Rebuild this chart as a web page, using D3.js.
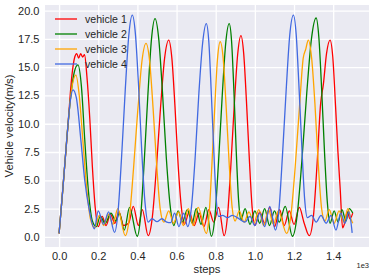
<!DOCTYPE html>
<html>
<head>
<meta charset="utf-8">
<script src="https://cdn.jsdelivr.net/npm/d3@7"></script>
<style>
body { margin: 0; background: #fff; }
svg text { font-family: "Liberation Sans", Arial, sans-serif; }
</style>
</head>
<body>
<svg id="chart" width="374" height="280"></svg>
<script>
// [step, velocity]
var vehicle1 = [[0,0.3],[25,5.5],[45,9.8],[65,14.2],[80,15.9],[90,16.2],[100,15.8],[110,16.2],[120,15.9],[130,16.1],[142,14.2],[157,10.4],[170,6.2],[185,2.5],[200,0.9],
 [220,1.8],[240,1.0],[262,2.0],[285,1.2],[305,2.2],[330,1.0],[355,1.2],[379,2.7],[405,1.0],[425,2.4],[455,0.1],
 [476,1.7],[497,6.1],[518,11.4],[539,15.8],[560,17.4],[576,15.8],[592,11.5],[608,6.4],[624,2.7],[640,1.1],
 [665,2.2],[690,1.0],[715,2.1],[740,0.9],[765,2.4],[790,1.3],[815,2.6],[843,0.1],
 [860,1.8],[877,6.2],[895,11.7],[912,16.1],[929,17.8],[943,16.2],[957,12.0],[972,6.8],[986,2.6],[1000,1.0],
 [1025,2.2],[1050,1.2],[1076,2.6],[1101,0.9],[1126,2.4],[1150,1.0],[1176,2.3],[1200,1.1],[1227,2.6],[1252,1.2],[1278,0.1],
 [1299,1.8],[1318,6.5],[1336,11.8],[1350,13.5],[1366,16.2],[1384,17.4],[1398,15.9],[1412,11.6],[1424,7.6],[1436,4.2],[1448,0.8],
 [1460,1.3],[1472,2.2],[1486,1.6],[1500,2.1]];

var vehicle2 = [[0,0.3],[20,4.4],[40,8.8],[60,12.5],[78,14.6],[96,15.2],[114,13.3],[131,8.6],[150,4.0],[170,1.4],[190,0.9],
 [210,1.8],[235,1.2],[265,2.1],[290,1.4],[308,2.1],[333,0.6],[360,2.6],[399,0.05],
 [417,1.9],[435,6.7],[454,12.7],[472,17.5],[490,19.3],[509,17.5],[528,12.8],[548,6.9],[567,2.8],[586,1.0],
 [608,2.3],[630,1.3],[655,2.4],[680,1.2],[700,2.5],[725,1.1],[750,2.6],[778,0.05],
 [796,1.8],[814,6.5],[833,12.4],[851,17.1],[869,18.85],[881,17.3],[893,12.9],[905,7.5],[917,3.2],[929,1.5],
 [950,2.5],[975,1.1],[1000,2.3],[1025,1.2],[1050,2.5],[1075,1.0],[1100,2.3],[1125,1.3],[1155,2.7],[1192,0.05],
 [1216,1.9],[1240,6.7],[1265,12.7],[1289,17.5],[1313,19.35],[1327,17.6],[1341,13.1],[1356,7.4],[1370,3.1],[1384,1.2],
 [1405,2.3],[1425,1.3],[1445,2.4],[1465,1.4],[1482,2.5],[1500,2.1]];

var vehicle3 = [[0,0.3],[20,4.4],[40,8.8],[62,12.8],[86,14.3],[103,12.5],[121,8.6],[140,4.5],[160,1.6],[182,0.8],
 [205,1.9],[228,1.0],[252,2.0],[275,1.1],[300,2.5],[338,0.1],
 [359,1.7],[380,6.0],[402,11.2],[423,15.5],[444,17.1],[462,15.6],[480,11.4],[499,6.2],[517,2.4],[535,1.3],
 [560,2.3],[585,1.2],[610,2.2],[635,1.0],[660,2.5],[685,1.0],[710,2.6],[752,0.3],
 [766,1.9],[780,6.2],[795,11.4],[809,15.7],[823,17.25],[838,15.8],[853,11.6],[869,6.4],[884,2.6],[899,1.4],
 [920,2.3],[945,1.3],[970,2.2],[995,1.2],[1020,2.4],[1045,1.0],[1070,2.4],[1095,1.1],[1120,2.3],[1162,0.3],
 [1184,1.9],[1206,6.2],[1228,11.5],[1247,15.8],[1260,16.6],[1273,17.4],[1290,15.8],[1307,11.7],[1324,6.4],[1341,2.5],[1358,1.4],
 [1380,2.4],[1405,1.2],[1430,2.3],[1455,1.3],[1475,2.5],[1490,1.6],[1500,1.2]];

var vehicle4 = [[0,0.3],[20,4.4],[40,8.8],[57,12.0],[71,13.0],[88,12.3],[111,8.6],[131,5.0],[155,2.3],[180,0.7],
 [200,2.3],[227,1.1],[253,2.2],[283,0.4],
 [301,2.2],[319,7.0],[338,13.0],[356,17.8],[374,19.6],[390,17.9],[406,13.3],[423,7.3],[439,3.0],[455,1.3],
 [475,1.6],[500,1.35],[525,1.6],[550,1.3],[570,1.25],[590,2.1],[612,0.9],[636,2.1],[657,0.9],
 [676,2.6],[695,7.0],[714,12.7],[733,17.1],[752,18.85],[765,17.2],[777,12.9],[790,7.7],[802,3.5],[815,1.8],
 [835,1.9],[860,1.7],[885,1.9],[910,1.7],[949,1.3],[975,1.8],[1000,1.0],[1025,2.1],[1050,0.9],[1076,2.7],[1105,0.6],
 [1123,2.4],[1141,7.2],[1160,13.0],[1178,17.8],[1197,19.6],[1211,17.9],[1225,13.4],[1240,7.9],[1254,3.4],[1268,1.7],
 [1290,1.9],[1313,1.3],[1338,1.9],[1364,1.2],[1389,1.9],[1414,0.6],[1439,2.1],[1460,1.2],[1480,2.2],[1497,0.35]];

var names = ["vehicle 1", "vehicle 2", "vehicle 3", "vehicle 4"];
var colors = ["#ff0000", "#008000", "#ffa500", "#4169e1"];
var xTicks = [0, 200, 400, 600, 800, 1000, 1200, 1400];
var yTicks = [0, 2.5, 5, 7.5, 10, 12.5, 15, 17.5, 20];

var svg = d3.select("#chart");
var mLeft = 45, mRight = 369, mTop = 5, mBottom = 247;

var x = d3.scaleLinear().domain([-72, 1583]).range([mLeft, mRight]);
var y = d3.scaleLinear().domain([-0.9, 20.5]).range([mBottom, mTop]);

svg.append("rect")
   .attr("x", mLeft).attr("y", mTop)
   .attr("width", mRight - mLeft).attr("height", mBottom - mTop)
   .attr("fill", "#eaeaf2");

// grid + tick labels
svg.append("g")
   .attr("transform", "translate(0," + mBottom + ")")
   .call(d3.axisBottom(x).tickValues(xTicks).tickSize(-(mBottom - mTop)).tickFormat(function(d){ return (d/1000).toFixed(1); }))
   .call(function(g){
      g.select(".domain").remove();
      g.selectAll("line").attr("stroke", "#fff").attr("stroke-width", 1.3);
      g.selectAll("text").attr("fill", "#262626").attr("font-size", "11px").attr("y", 4).attr("dy", "0.8em");
   });

svg.append("g")
   .attr("transform", "translate(" + mLeft + ",0)")
   .call(d3.axisLeft(y).tickValues(yTicks).tickSize(-(mRight - mLeft)).tickFormat(d3.format(".1f")))
   .call(function(g){
      g.select(".domain").remove();
      g.selectAll("line").attr("stroke", "#fff").attr("stroke-width", 1.3);
      g.selectAll("text").attr("fill", "#262626").attr("font-size", "11px").attr("x", -5.5);
   });

var line = d3.line()
   .x(function(d){ return x(d[0]); })
   .y(function(d){ return y(d[1]); })
   .curve(d3.curveMonotoneX);

var series = [vehicle1, vehicle2, vehicle3, vehicle4];
series.forEach(function(s, i){
   svg.append("path")
      .datum(s)
      .attr("d", line)
      .attr("fill", "none")
      .attr("stroke", colors[i])
      .attr("stroke-width", 1.3);
});

// legend
var lg = svg.append("g").attr("transform", "translate(55,19)");
names.forEach(function(n, i){
   lg.append("line")
     .attr("x1", 0).attr("x2", 22)
     .attr("y1", i*15).attr("y2", i*15)
     .attr("stroke", colors[i]).attr("stroke-width", 1.3);
   lg.append("text")
     .attr("x", 30).attr("y", i*15)
     .attr("dy", "0.36em")
     .attr("font-size", "10.6px")
     .attr("fill", "#262626")
     .text(n);
});

svg.append("text")
   .attr("x", 207).attr("y", 273)
   .attr("text-anchor", "middle")
   .attr("font-size", "11.3px")
   .attr("fill", "#262626")
   .text("steps");

svg.append("text")
   .attr("x", 369).attr("y", 268)
   .attr("text-anchor", "end")
   .attr("font-size", "7.5px")
   .attr("fill", "#262626")
   .text("1e3");

svg.append("text")
   .attr("transform", "translate(13," + ((mTop + mBottom) / 2) + ") rotate(-90)")
   .attr("text-anchor", "middle")
   .attr("font-size", "11.3px")
   .attr("fill", "#262626")
   .text("Vehicle velocity(m/s)");
</script>
</body>
</html>
